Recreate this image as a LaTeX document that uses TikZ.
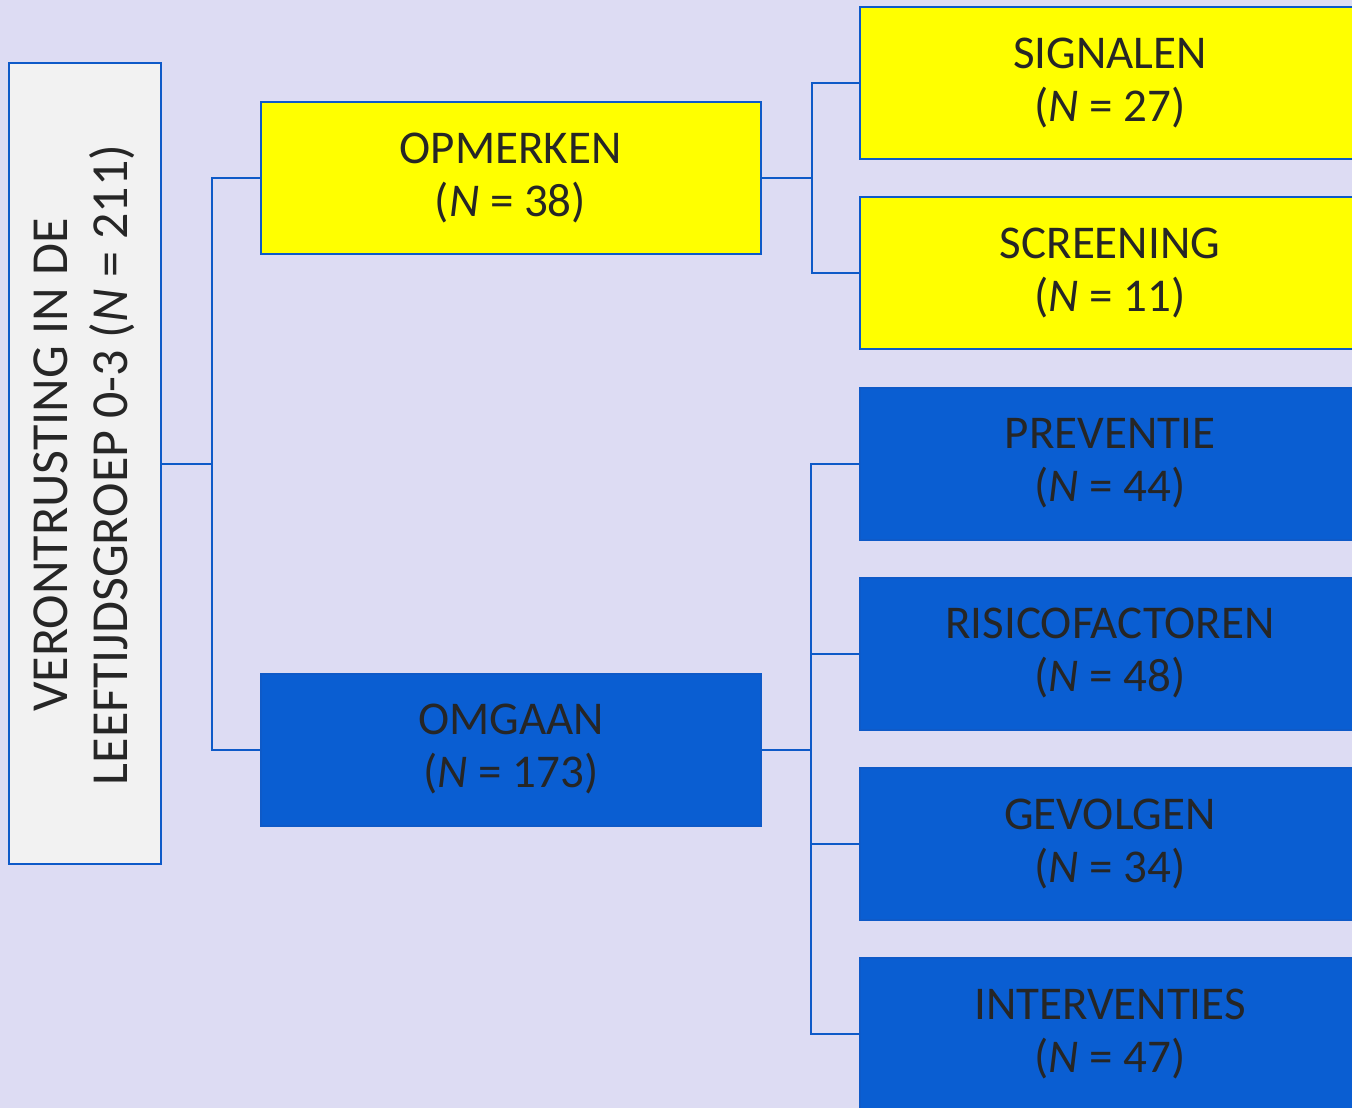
\documentclass[tikz,border=0pt]{standalone}
\usepackage{fontspec}
\setmainfont{Carlito}
\definecolor{bgc}{RGB}{221,220,243}
\definecolor{edge}{RGB}{14,90,200}
\definecolor{ylw}{RGB}{255,255,0}
\definecolor{blu}{RGB}{10,94,210}
\definecolor{rootfill}{RGB}{242,242,242}
\definecolor{txt}{RGB}{38,38,38}
\begin{document}
\begin{tikzpicture}[x=1pt,y=-1pt,
  box/.style={draw=edge,line width=2pt,minimum width=500pt,minimum height=152pt,
    inner sep=0pt,align=center,text=txt,font=\fontsize{47}{53}\selectfont},
  ybox/.style={box,fill=ylw},
  bbox/.style={box,fill=blu},
  conn/.style={draw=edge,line width=2pt}]
\fill[bgc] (0,0) rectangle (1352,1108);
\clip (0,0) rectangle (1352,1108);
\useasboundingbox (0,0) rectangle (1352,1108);
\node[draw=edge,fill=rootfill,line width=2pt,minimum width=152pt,minimum height=801pt,inner sep=0pt] (root) at (85,463.5) {};
\node[rotate=90,align=center,text=txt,font=\fontsize{52}{60}\selectfont] (roottxt) at (84,465) {VERONTRUSTING IN DE\\LEEFTIJDSGROEP 0-3 (\textit{N} = 211)};
\node[ybox] (opm) at (510.5,178) {OPMERKEN\\(\textit{N} = 38)};
\node[bbox] (omg) at (511,749.5) {OMGAAN\\(\textit{N} = 173)};
\node[ybox] (sig) at (1110,83) {SIGNALEN\\(\textit{N} = 27)};
\node[ybox] (scr) at (1110,273) {SCREENING\\(\textit{N} = 11)};
\node[bbox] (pre) at (1110,463.5) {PREVENTIE\\(\textit{N} = 44)};
\node[bbox] (ris) at (1110,653.5) {RISICOFACTOREN\\(\textit{N} = 48)};
\node[bbox] (gev) at (1110,844) {GEVOLGEN\\(\textit{N} = 34)};
\node[bbox] (int) at (1110,1034) {INTERVENTIES\\(\textit{N} = 47)};
\path[conn] (root.east) -- ++(50,0) coordinate (j0);
\path[conn] (opm.west) -| (j0) |- (omg.west);
\path[conn] (opm.east) -- ++(50,0) coordinate (j1);
\path[conn] (sig.west) -| (j1) |- (scr.west);
\path[conn] (omg.east) -- ++(49,0) coordinate (j2);
\path[conn] (pre.west) -| (j2) |- (int.west);
\path[conn] (ris.west) -- (ris.west -| j2);
\path[conn] (gev.west) -- (gev.west -| j2);
\end{tikzpicture}
\end{document}
